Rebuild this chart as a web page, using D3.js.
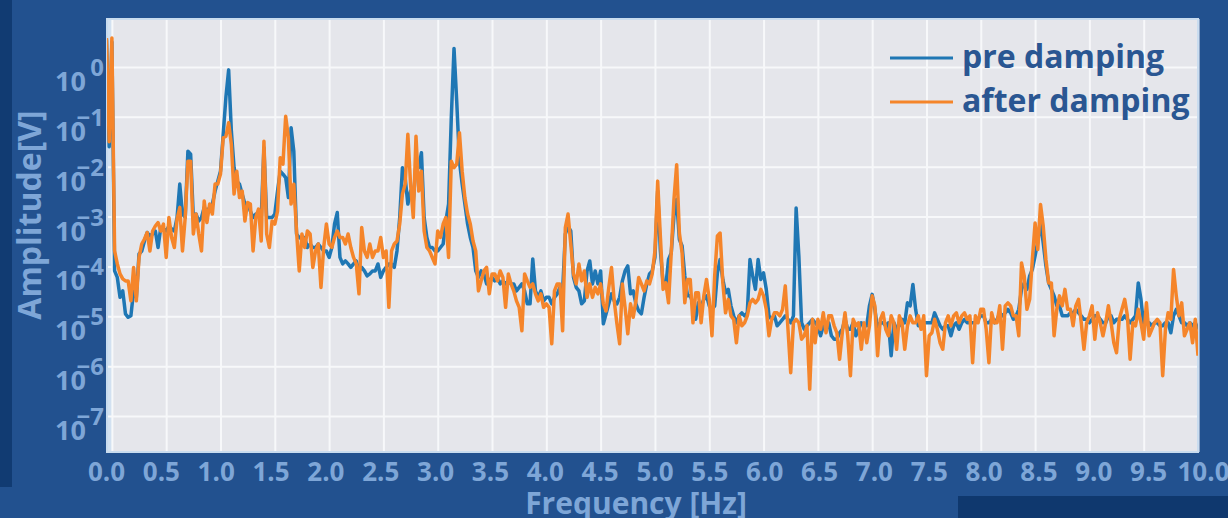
<!DOCTYPE html>
<html>
<head>
<meta charset="utf-8">
<script src="https://cdn.jsdelivr.net/npm/d3@7"></script>
<style>
  html, body { margin: 0; padding: 0; background: #22518f; }
  svg { display: block; font-family: "Open Sans", sans-serif; }
</style>
</head>
<body>
<div id="chart"></div>
<script>
// spectrum sampled every 0.025 Hz, first sample at -0.05 Hz (values are log10 of amplitude in V)
const freqStart = -0.05;
const freqStep = 0.025;

const preDampingLog = [
  0.55, -1.6,
  0.5, -4.09, -4.22, -4.62, -4.49, -4.95, -5.02, -4.99, -4.49, -4.62, -3.75, -3.69, -3.49, -3.32, -3.39, -3.35, -3.29, -3.62, -3.22, -3.25,
  -3.29, -3.19, -3.25, -3.29, -3.02, -2.35, -2.95, -3.02, -1.69, -1.75, -3.02, -2.95, -3.09, -3.02, -2.82, -2.89, -2.82, -2.75, -2.49, -2.29,
  -2.09, -1.35, -0.6, -0.06, -1.29, -2.02, -2.29, -2.35, -2.55, -2.75, -2.75, -2.89, -3.02, -2.95, -2.95, -3.02, -1.62, -3.02, -3.02, -3.02,
  -2.95, -2.49, -2.09, -2.15, -2.22, -2.62, -1.22, -1.69, -3.35, -3.42, -3.45, -3.42, -3.62, -3.55, -3.62, -3.62, -3.55, -3.62, -3.69, -3.69,
  -3.82, -3.62, -3.15, -2.92, -3.82, -3.95, -3.89, -3.95, -4.02, -3.95, -3.89, -4.09, -4.02, -4.09, -4.19, -4.15, -4.09, -4.09, -3.95, -4.22,
  -4.09, -4.02, -3.95, -3.95, -4.02, -3.69, -3.02, -2.02, -2.22, -2.75, -2.49, -2.69, -1.95, -2.02, -1.72, -3.02, -3.42, -3.62, -3.62, -3.69,
  -3.69, -3.62, -3.55, -3.09, -2.75, -1.02, 0.37, -0.69, -1.89, -2.35, -2.75, -3.15, -3.42, -3.62, -4.09, -4.22, -4.09, -4.15, -4.35, -4.29,
  -4.22, -4.29, -4.22, -4.35, -4.29, -4.35, -4.29, -4.35, -4.35, -4.49, -4.42, -4.35, -4.49, -4.75, -4.75, -3.85, -4.49, -4.62, -4.49, -4.69,
  -4.62, -4.62, -4.75, -4.62, -4.55, -4.42, -4.49, -3.35, -3.2, -3.29, -4.22, -4.42, -4.49, -4.75, -4.69, -4.09, -3.89, -4.35, -4.09, -4.35,
  -4.09, -5.15, -4.95, -4.75, -4.55, -4.69, -4.75, -4.62, -4.29, -4.09, -3.99, -4.55, -4.49, -4.75, -4.89, -4.95, -4.62, -4.35, -4.15, -4.09,
  -3.82, -2.49, -3.69, -4.33, -4.39, -3.86, -3.73, -2.99, -2.66, -3.46, -3.59, -4.19, -4.59, -4.59, -4.73, -5.06, -4.73, -4.79, -4.66, -4.59,
  -4.79, -4.86, -4.79, -4.13, -3.86, -4.26, -4.53, -4.46, -4.79, -4.99, -5.13, -4.99, -4.93, -4.99, -4.93, -3.86, -4.19, -4.46, -3.86, -4.26,
  -4.13, -4.46, -4.99, -5.06, -4.99, -5.19, -5.13, -5.06, -4.99, -5.06, -5.13, -4.99, -2.83, -3.79, -5.13, -5.26, -5.19, -5.13, -5.06, -5.13,
  -5.19, -5.39, -5.19, -5.26, -5.13, -5.39, -5.46, -5.46, -5.33, -5.26, -5.06, -5.26, -5.26, -5.13, -5.39, -5.26, -5.13, -5.19, -5.19, -4.79,
  -4.56, -4.86, -5.26, -5.13, -5.13, -5.19, -5.13, -5.79, -5.13, -5.26, -5.19, -5.06, -5.13, -4.73, -4.79, -4.36, -4.86, -5.19, -5.13, -5.13,
  -5.13, -5.13, -5.13, -4.93, -5.06, -5.19, -5.26, -5.19, -5.19, -5.39, -5.19, -5.13, -5.26, -5.13, -5.06, -5.13, -5.13, -5.13, -5.13, -5.06,
  -4.99, -4.99, -5.13, -5.13, -5.06, -5.13, -5.06, -4.93, -4.99, -4.93, -4.86, -4.93, -5.06, -4.99, -4.86, -4.46, -4.33, -4.46, -4.19, -4.06,
  -3.79, -3.5, -3.1, -3.53, -3.99, -4.33, -4.46, -4.59, -4.79, -4.79, -4.99, -4.99, -4.99, -4.93, -4.93, -4.86, -4.93, -4.99, -5.06, -5.06,
  -5.13, -5.06, -4.99, -4.99, -5.06, -5.13, -5.13, -4.99, -4.99, -5.13, -5.06, -5.06, -5.06, -4.99, -5.06, -5.13, -5.06, -4.99, -4.33, -4.66,
  -5.19, -5.13, -5.13, -5.19, -5.13, -5.13, -5.19, -5.19, -5.13, -5.13, -5.33, -4.99, -4.86, -4.99, -5.13, -5.13, -5.19, -5.13, -5.19, -5.13, -5.26
];

const afterDampingLog = [
  0.58, -1.5,
  0.58, -3.69, -3.95, -4.15, -4.25, -4.29, -4.29, -4.69, -4.02, -4.69, -3.82, -3.55, -3.45, -3.32, -3.69, -3.29, -3.19, -3.12, -3.29, -3.15,
  -3.82, -3.02, -3.42, -3.62, -3.05, -2.82, -3.69, -3.02, -1.89, -1.89, -3.35, -2.95, -3.35, -3.69, -2.69, -3.12, -2.75, -2.95, -2.35, -2.35,
  -2.15, -1.42, -1.39, -1.12, -1.55, -2.55, -2.09, -2.62, -2.49, -3.09, -2.72, -2.75, -3.69, -3.02, -2.85, -3.49, -1.49, -3.35, -3.62, -3.09,
  -3.15, -2.89, -1.82, -1.95, -0.99, -1.42, -2.75, -2.35, -3.29, -4.09, -3.35, -3.62, -3.29, -3.35, -4.02, -3.69, -3.55, -4.42, -3.62, -3.15,
  -3.55, -3.62, -3.42, -3.29, -3.42, -3.42, -3.55, -3.35, -3.62, -3.82, -3.95, -4.55, -3.22, -3.69, -3.82, -3.55, -3.82, -3.69, -3.69, -3.42,
  -3.82, -3.69, -4.82, -3.69, -3.55, -3.49, -3.15, -2.55, -2.35, -1.35, -2.35, -3.02, -1.39, -2.49, -2.09, -3.29, -3.62, -3.69, -3.82, -3.95,
  -3.29, -3.42, -3.15, -3.02, -3.82, -1.89, -2.02, -1.95, -1.32, -2.09, -2.62, -2.95, -3.15, -3.49, -3.69, -4.49, -4.29, -4.09, -4.02, -4.55,
  -4.15, -4.15, -4.29, -4.09, -4.22, -4.82, -4.15, -4.35, -4.49, -4.69, -4.82, -5.29, -4.15, -4.29, -4.42, -4.35, -4.55, -4.69, -4.55, -4.82,
  -4.75, -4.82, -5.55, -4.49, -4.35, -4.35, -5.29, -3.22, -2.95, -3.55, -4.15, -4.35, -3.95, -4.29, -4.09, -4.62, -4.35, -4.62, -4.42, -4.55,
  -4.35, -4.75, -4.89, -4.42, -4.02, -4.69, -5.15, -5.55, -4.35, -4.82, -5.35, -4.75, -5.02, -4.69, -4.22, -4.35, -4.49, -4.29, -4.35, -4.15,
  -3.69, -2.29, -3.4, -4.46, -4.33, -4.73, -3.73, -2.66, -1.96, -3.33, -3.73, -4.73, -4.26, -4.26, -5.13, -4.53, -4.53, -5.13, -4.59, -4.26,
  -4.66, -5.39, -4.19, -3.39, -3.33, -4.33, -4.93, -4.66, -4.99, -5.06, -5.53, -4.99, -5.19, -5.13, -4.99, -4.73, -4.66, -4.73, -4.66, -4.46,
  -4.59, -4.86, -5.39, -5.06, -4.93, -4.93, -4.99, -4.86, -4.39, -5.26, -6.13, -5.13, -5.06, -5.13, -5.46, -5.39, -5.19, -6.46, -5.06, -5.53,
  -5.06, -5.26, -4.93, -5.33, -4.99, -4.99, -5.19, -5.33, -5.86, -5.33, -4.93, -5.39, -6.19, -5.06, -5.19, -5.13, -5.66, -5.13, -5.53, -5.19,
  -4.59, -4.79, -5.79, -5.06, -4.93, -5.26, -5.39, -4.99, -5.13, -5.66, -4.99, -5.13, -5.66, -5.19, -4.99, -5.13, -5.13, -4.99, -5.26, -4.99,
  -6.19, -5.39, -5.33, -5.06, -5.26, -5.53, -5.66, -5.13, -4.99, -5.19, -4.99, -4.93, -5.13, -4.99, -4.93, -5.06, -4.99, -5.93, -4.99, -5.13,
  -4.86, -4.86, -5.26, -5.93, -4.93, -5.13, -5.13, -4.79, -5.66, -4.79, -4.73, -4.79, -4.99, -4.99, -5.39, -3.93, -4.19, -4.86, -4.66, -3.86,
  -3.13, -3.66, -2.76, -3.19, -3.86, -4.33, -4.33, -5.39, -4.86, -4.59, -4.79, -4.46, -4.86, -4.86, -5.19, -4.79, -4.66, -5.13, -5.66, -5.13,
  -4.99, -4.79, -5.46, -4.93, -5.13, -5.39, -5.13, -4.79, -5.13, -5.53, -5.73, -5.06, -4.86, -4.66, -4.99, -5.86, -5.13, -5.19, -4.86, -5.13,
  -5.46, -4.73, -5.39, -5.26, -5.13, -5.06, -5.13, -6.19, -5.26, -4.93, -5.06, -4.06, -4.59, -4.99, -4.73, -5.39, -5.26, -5.13, -5.53, -5.06, -5.79
];

const seriesNames = ["pre damping", "after damping"];
const seriesColors = ["#1f77b4", "#f5852a"];
const xTicks = [0, 0.5, 1, 1.5, 2, 2.5, 3, 3.5, 4, 4.5, 5, 5.5, 6, 6.5, 7, 7.5, 8, 8.5, 9, 9.5, 10];
const yExponents = [0, -1, -2, -3, -4, -5, -6, -7];

const W = 1228, H = 518;
const plot = { left: 107, right: 1198, top: 19, bottom: 452 };
const labelColor = "#7ea6d7";

const svg = d3.select("#chart").append("svg")
  .attr("width", W)
  .attr("height", H);

// slide background pieces
svg.append("rect").attr("width", W).attr("height", H).attr("fill", "#22518f");
svg.append("rect").attr("x", 0).attr("y", 0).attr("width", 12).attr("height", 487).attr("fill", "#113b72");
svg.append("rect").attr("x", 958).attr("y", 496).attr("width", W - 958).attr("height", H - 496).attr("fill", "#0f386e");

const x = d3.scaleLinear().domain([-0.045, 10]).range([plot.left, plot.right]);
const xLabel = d3.scaleLinear().domain([0, 10]).range([106, 1203]);
const y = d3.scaleLog().domain([Math.pow(10, -7.72), Math.pow(10, 0.96)]).range([plot.bottom, plot.top]);

const pw = plot.right - plot.left, ph = plot.bottom - plot.top;

svg.append("rect")
  .attr("x", plot.left).attr("y", plot.top)
  .attr("width", pw).attr("height", ph)
  .attr("fill", "#e5e6eb");

// pale band at the left edge of the plot
svg.append("rect")
  .attr("x", plot.left).attr("y", plot.top)
  .attr("width", x(0) - plot.left).attr("height", ph)
  .attr("fill", "#d2e1f1");

// grid
svg.append("g")
  .attr("transform", `translate(0,${plot.bottom})`)
  .call(d3.axisBottom(x).tickValues(xTicks).tickSize(-ph).tickFormat(""))
  .call(g => g.select(".domain").remove())
  .call(g => g.selectAll("line").attr("stroke", "#f7f8fa").attr("stroke-width", 2));

svg.append("g")
  .attr("transform", `translate(${plot.left},0)`)
  .call(d3.axisLeft(y).tickValues(yExponents.map(e => Math.pow(10, e))).tickSize(-pw).tickFormat(""))
  .call(g => g.select(".domain").remove())
  .call(g => g.selectAll("line").attr("stroke", "#f7f8fa").attr("stroke-width", 2));

// plot frame
svg.append("rect")
  .attr("x", plot.left).attr("y", plot.top)
  .attr("width", pw).attr("height", ph)
  .attr("fill", "none")
  .attr("stroke", "#c9dcef")
  .attr("stroke-width", 2);

// series
svg.append("clipPath").attr("id", "plot-clip")
  .append("rect")
  .attr("x", plot.left).attr("y", plot.top)
  .attr("width", pw).attr("height", ph);

const freqs = preDampingLog.map((_, i) => freqStart + i * freqStep);
const series = [preDampingLog, afterDampingLog].map((vals, k) => ({
  name: seriesNames[k],
  color: seriesColors[k],
  points: vals.map((v, i) => ({ f: freqs[i], amp: Math.pow(10, v) }))
}));

const line = d3.line()
  .x(d => x(d.f))
  .y(d => y(d.amp));

svg.append("g")
  .attr("clip-path", "url(#plot-clip)")
  .selectAll("path")
  .data(series)
  .enter()
  .append("path")
  .attr("d", d => line(d.points))
  .attr("fill", "none")
  .attr("stroke", d => d.color)
  .attr("stroke-width", 3.5)
  .attr("stroke-linejoin", "round");

// x tick labels
svg.append("g")
  .attr("transform", `translate(0,${plot.bottom})`)
  .call(d3.axisBottom(xLabel).tickValues(xTicks).tickSize(0).tickFormat(d3.format(".1f")))
  .call(g => g.select(".domain").remove())
  .call(g => g.selectAll("text")
    .attr("dy", null)
    .attr("y", 29)
    .attr("fill", labelColor)
    .style("font-family", "'Open Sans', sans-serif")
    .style("font-size", "26px")
    .style("font-weight", "bold"));

// y tick labels 10^n
const yl = svg.append("g").selectAll("g")
  .data(yExponents)
  .enter()
  .append("g")
  .attr("transform", d => `translate(0,${y(Math.pow(10, d))})`);

yl.append("text")
  .attr("x", 86).attr("y", 24)
  .attr("text-anchor", "end")
  .attr("fill", labelColor)
  .style("font-size", "27px")
  .style("font-weight", "bold")
  .text("10");

yl.append("text")
  .attr("x", 104).attr("y", 9)
  .attr("text-anchor", "end")
  .attr("fill", labelColor)
  .style("font-size", "24px")
  .style("font-weight", "bold")
  .text(d => d === 0 ? "0" : "\u2212" + Math.abs(d));

// axis titles
svg.append("text")
  .attr("x", 636).attr("y", 514)
  .attr("text-anchor", "middle")
  .attr("fill", labelColor)
  .style("font-size", "30px")
  .style("font-weight", "bold")
  .text("Frequency [Hz]");

svg.append("text")
  .attr("transform", "translate(41,215) rotate(-90)")
  .attr("text-anchor", "middle")
  .attr("fill", labelColor)
  .style("font-size", "32px")
  .style("font-weight", "bold")
  .text("Amplitude[V]");

// legend
const legend = svg.append("g").selectAll("g")
  .data(series)
  .enter()
  .append("g")
  .attr("transform", (d, i) => `translate(890,${58 + i * 44})`);

legend.append("line")
  .attr("x1", 0).attr("x2", 63)
  .attr("stroke", d => d.color)
  .attr("stroke-width", 3);

legend.append("text")
  .attr("x", 72).attr("y", 10)
  .attr("fill", "#2a5692")
  .style("font-size", "32px")
  .style("font-weight", "bold")
  .text(d => d.name);
</script>
</body>
</html>
